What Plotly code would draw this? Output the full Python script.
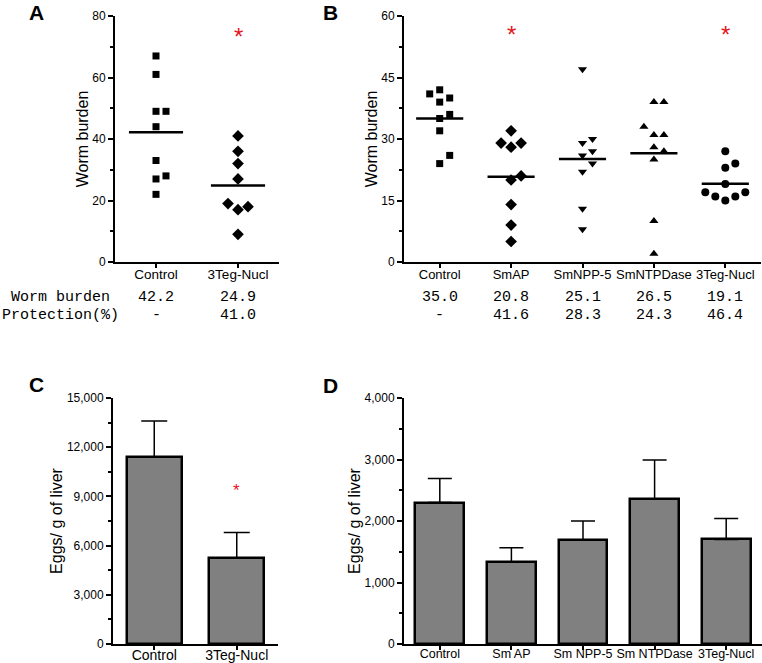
import plotly.graph_objects as go

W, H = 762, 663

# ---------------- Data ----------------
# Panel A: worm burden (individual mice)
a_groups = ["Control", "3Teg-Nucl"]
a_control = [67, 61, 49, 49, 44, 33, 28, 27, 22]
a_teg = [41, 36, 32, 27, 19, 18, 17, 9]
a_means = [42.2, 24.9]
a_protection = [None, 41.0]
a_sig = [False, True]

# Panel B: worm burden (individual mice)
b_groups = ["Control", "SmAP", "SmNPP-5", "SmNTPDase", "3Teg-Nucl"]
b_control = [42, 41, 40, 39, 36, 35, 32, 26, 24]
b_smap = [32, 29, 29, 28, 21, 20, 14, 9, 5]
b_smnpp5 = [47, 30, 29, 27, 26, 24, 22, 13, 8]
b_smntpdase = [39, 39, 33, 31, 31, 28, 27, 25, 10, 2]
b_teg = [27, 24, 23, 19, 17, 17, 16, 16, 15]
b_means = [35.0, 20.8, 25.1, 26.5, 19.1]
b_protection = [None, 41.6, 28.3, 24.3, 46.4]
b_sig = [False, True, False, False, True]

# Panel C: eggs per g of liver (mean + SEM)
c_groups = ["Control", "3Teg-Nucl"]
c_eggs = [11400, 5250]
c_sem = [2200, 1550]
c_sig = [False, True]

# Panel D: eggs per g of liver (mean + SEM)
d_groups = ["Control", "Sm AP", "Sm NPP-5", "Sm NTPDase", "3Teg-Nucl"]
d_eggs = [2300, 1330, 1690, 2360, 1700]
d_sem = [390, 235, 310, 630, 340]

# ---------------- Layout helpers ----------------
FONT = "Liberation Sans, Arial, sans-serif"
MONO = "Liberation Mono, Courier New, monospace"
STAR_RED = "#e5161d"


def px_x(p):
    return p / W


def px_y(p):
    return 1 - p / H


dom_A = [px_x(115), px_x(279)]
dom_B = [px_x(404), px_x(761)]
dom_C = [px_x(113), px_x(278)]
dom_D = [px_x(404), px_x(762)]
dom_top = [px_y(262), px_y(16)]
dom_bot = [px_y(644), px_y(398)]


def swarm(values, thresh):
    """Deterministic beeswarm lanes: spread points whose values collide."""
    placed = []
    lanes = [0] * len(values)
    order = sorted(range(len(values)), key=lambda i: values[i])
    for i in order:
        v = values[i]
        for c in [0, 1, -1, 2, -2, 3, -3]:
            if all(not (l == c and abs(v - pv) < thresh) for pv, l in placed):
                lanes[i] = c
                placed.append((v, c))
                break
    return lanes


def xaxis_cfg(domain, n, labels, anchor, size, standoff):
    return dict(
        domain=domain, range=[-0.5, n - 0.5], anchor=anchor,
        tickmode="array", tickvals=list(range(n)), ticktext=labels,
        showline=True, linecolor="black", linewidth=2,
        ticks="outside", ticklen=4, tickwidth=2, tickcolor="black",
        tickangle=0, ticklabelstandoff=standoff,
        showgrid=False, zeroline=False, automargin=False,
        tickfont=dict(size=size, color="black", family=FONT),
    )


def yaxis_cfg(domain, rng, dtick, minor, anchor, title, standoff):
    return dict(
        domain=domain, range=rng, anchor=anchor,
        tick0=0, dtick=dtick, tickformat=",d",
        showline=True, linecolor="black", linewidth=2,
        ticks="outside", ticklen=5, tickwidth=2, tickcolor="black",
        minor=dict(tick0=0, dtick=minor, ticks="outside", ticklen=3,
                   tickwidth=2, tickcolor="black", showgrid=False),
        showgrid=False, zeroline=False, automargin=False,
        tickfont=dict(size=12, color="black", family=FONT),
        title=dict(text=title, standoff=standoff,
                   font=dict(size=16, color="black", family=FONT)),
    )


fig = go.Figure()

# ---------------- Panel A ----------------
unitA = (279 - 115) / 2.0
laneA = 10 / unitA
a_series = [(a_control, "square", 7), (a_teg, "diamond", 9)]
for gi, (vals, sym, sz) in enumerate(a_series):
    lanes = swarm(vals, 3.0)
    fig.add_trace(go.Scatter(
        x=[gi + l * laneA for l in lanes], y=vals, mode="markers",
        marker=dict(symbol=sym, size=sz, color="black"),
        xaxis="x", yaxis="y", showlegend=False, name=a_groups[gi]))
for gi, m in enumerate(a_means):
    fig.add_trace(go.Scatter(
        x=[gi - 0.33, gi + 0.33], y=[m, m], mode="lines",
        line=dict(color="black", width=2.5),
        xaxis="x", yaxis="y", showlegend=False, hoverinfo="skip"))

# ---------------- Panel B ----------------
unitB = (761 - 404) / 5.0
laneB = 10 / unitB
b_series = [(b_control, "square", 7), (b_smap, "diamond", 9),
            (b_smnpp5, "triangle-down", 8), (b_smntpdase, "triangle-up", 8),
            (b_teg, "circle", 8)]
for gi, (vals, sym, sz) in enumerate(b_series):
    lanes = swarm(vals, 2.5)
    fig.add_trace(go.Scatter(
        x=[gi + l * laneB for l in lanes], y=vals, mode="markers",
        marker=dict(symbol=sym, size=sz, color="black"),
        xaxis="x2", yaxis="y2", showlegend=False, name=b_groups[gi]))
for gi, m in enumerate(b_means):
    fig.add_trace(go.Scatter(
        x=[gi - 0.33, gi + 0.33], y=[m, m], mode="lines",
        line=dict(color="black", width=2.5),
        xaxis="x2", yaxis="y2", showlegend=False, hoverinfo="skip"))

# ---------------- Panel C ----------------
fig.add_trace(go.Bar(
    x=list(range(len(c_groups))), y=c_eggs, width=0.67,
    marker=dict(color="#808080", line=dict(color="black", width=2.5)),
    error_y=dict(type="data", symmetric=False, array=c_sem,
                 arrayminus=[0] * len(c_sem), color="black",
                 thickness=1.5, width=13),
    xaxis="x3", yaxis="y3", showlegend=False))

# ---------------- Panel D ----------------
fig.add_trace(go.Bar(
    x=list(range(len(d_groups))), y=d_eggs, width=0.68,
    marker=dict(color="#808080", line=dict(color="black", width=2.5)),
    error_y=dict(type="data", symmetric=False, array=d_sem,
                 arrayminus=[0] * len(d_sem), color="black",
                 thickness=1.5, width=12),
    xaxis="x4", yaxis="y4", showlegend=False))

# ---------------- Annotations ----------------
ann = []
# Panel letters
for letter, x, y in [("A", 36, 12), ("B", 330, 12), ("C", 36, 384), ("D", 330, 385)]:
    ann.append(dict(text="<b>%s</b>" % letter, x=px_x(x), y=px_y(y),
                    xref="paper", yref="paper", xanchor="center", yanchor="middle",
                    showarrow=False, font=dict(size=21, color="black", family=FONT)))

# Significance stars
for gi, s in enumerate(a_sig):
    if s:
        ann.append(dict(text="*", x=gi, y=74.8, xref="x", yref="y", yshift=-5,
                        showarrow=False, yanchor="middle",
                        font=dict(size=24, color=STAR_RED, family=FONT)))
for gi, s in enumerate(b_sig):
    if s:
        ann.append(dict(text="*", x=gi, y=56.8, xref="x2", yref="y2", yshift=-5,
                        showarrow=False, yanchor="middle",
                        font=dict(size=24, color=STAR_RED, family=FONT)))
for gi, s in enumerate(c_sig):
    if s:
        ann.append(dict(text="*", x=gi, y=9630, xref="x3", yref="y3", yshift=-4,
                        showarrow=False, yanchor="middle",
                        font=dict(size=17, color=STAR_RED, family=FONT)))

# Summary table under A and B
row1, row2 = px_y(297), px_y(315)
ann.append(dict(text="Worm burden", x=px_x(9), y=row1, xref="paper", yref="paper",
                xanchor="left", yanchor="middle", showarrow=False,
                font=dict(size=15, color="black", family=MONO)))
ann.append(dict(text="Protection(%)", x=px_x(0), y=row2, xref="paper", yref="paper",
                xanchor="left", yanchor="middle", showarrow=False,
                font=dict(size=15, color="black", family=MONO)))


def fmt(v):
    return "-" if v is None else "%.1f" % v


for xr, means, prot in [("x", a_means, a_protection), ("x2", b_means, b_protection)]:
    for gi in range(len(means)):
        for yy, val in [(row1, means[gi]), (row2, prot[gi])]:
            ann.append(dict(text=fmt(val), x=gi, y=yy, xref=xr, yref="paper",
                            xanchor="center", yanchor="middle", showarrow=False,
                            font=dict(size=15, color="black", family=MONO)))

fig.update_layout(
    width=W, height=H, template="none",
    margin=dict(l=0, r=0, t=0, b=0, pad=0),
    paper_bgcolor="white", plot_bgcolor="white",
    font=dict(family=FONT, color="black"),
    showlegend=False, bargap=0,
    xaxis=xaxis_cfg(dom_A, 2, a_groups, "y", 13.5, -5),
    yaxis=yaxis_cfg(dom_top, [0, 80], 20, 10, "x", "Worm burden", 0),
    xaxis2=xaxis_cfg(dom_B, 5, b_groups, "y2", 13, -5),
    yaxis2=yaxis_cfg(dom_top, [0, 60], 15, 7.5, "x2", "Worm burden", 0),
    xaxis3=xaxis_cfg(dom_C, 2, c_groups, "y3", 14, -7),
    yaxis3=yaxis_cfg(dom_bot, [0, 15000], 3000, 1500, "x3", "Eggs/ g of liver", 0),
    xaxis4=xaxis_cfg(dom_D, 5, d_groups, "y4", 12.5, -7),
    yaxis4=yaxis_cfg(dom_bot, [0, 4000], 1000, 500, "x4", "Eggs/ g of liver", 0),
    annotations=ann,
)

fig.write_html("out.html", config={"displayModeBar": False},
               post_script="document.body.style.margin='0px';")
